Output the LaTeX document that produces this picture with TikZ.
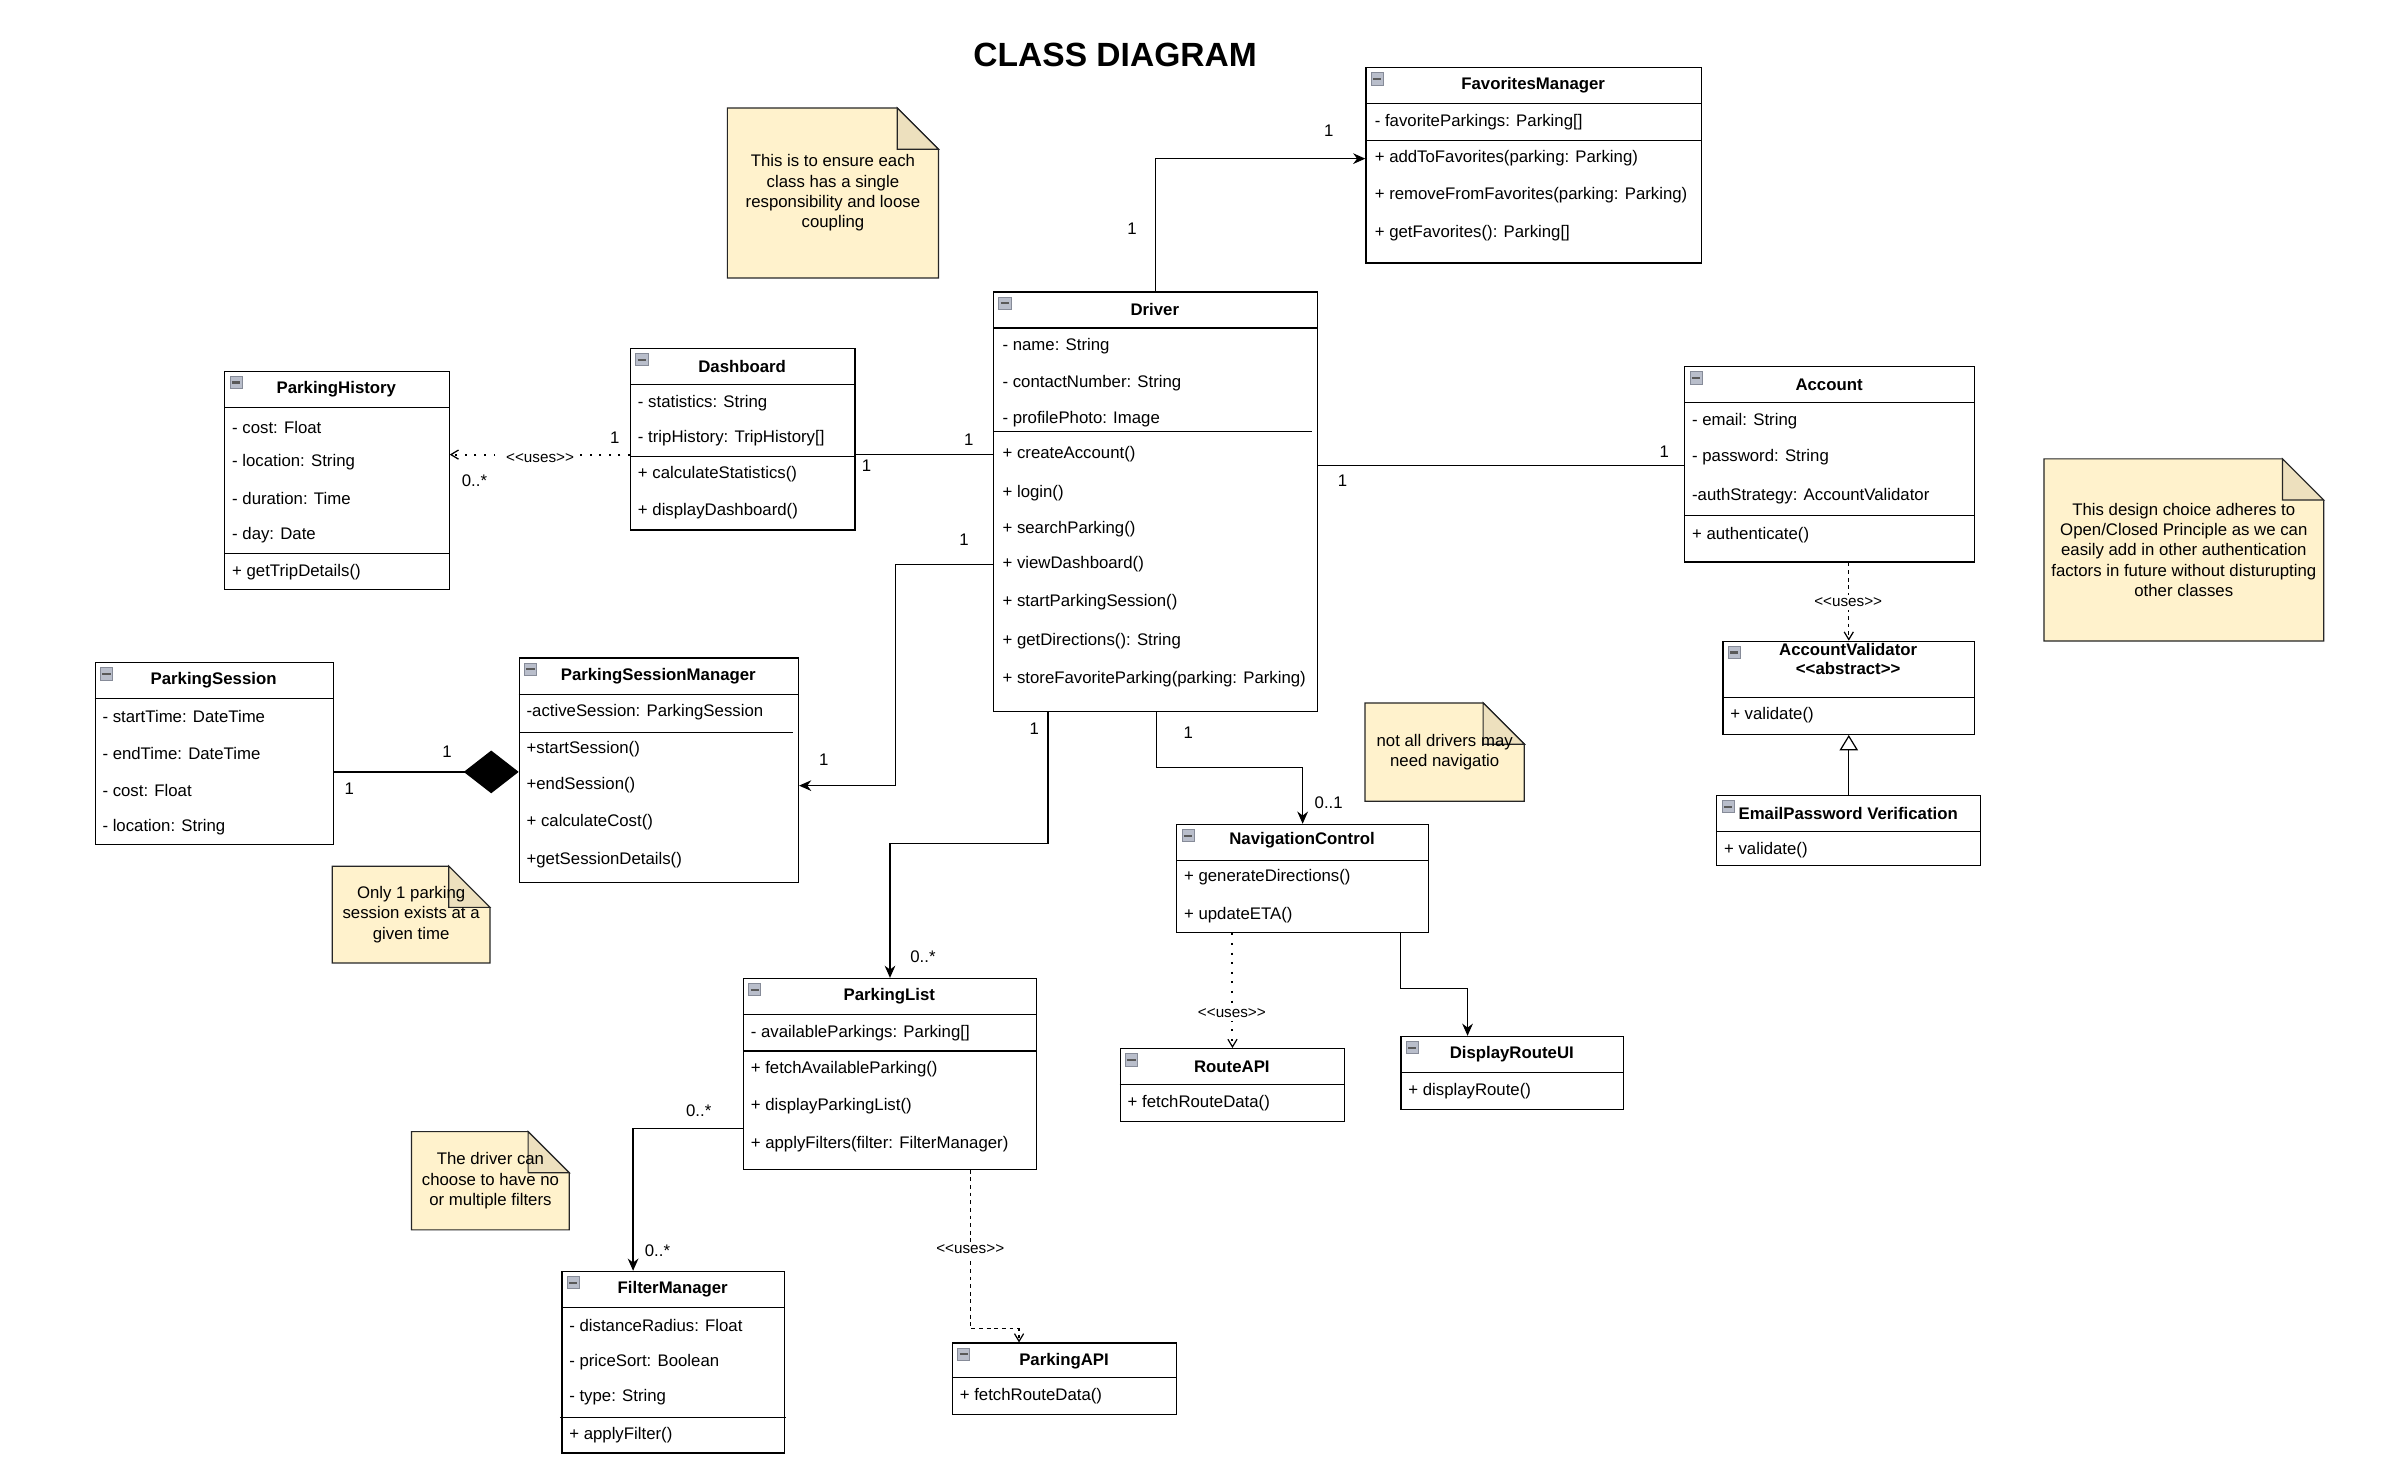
\documentclass[tikz,border=0pt]{standalone}
\usepackage{fontspec}
\setmainfont{Liberation Sans}
\usetikzlibrary{arrows.meta,backgrounds}

\definecolor{notefill}{HTML}{FFF2CC}
\definecolor{notefold}{HTML}{EDE0BE}
\definecolor{iconfill}{HTML}{B9BECB}
\definecolor{icondraw}{HTML}{868B98}

\newcommand\stereo[1]{<\kern0pt<#1>\kern0pt>}

\tikzset{
  classbox/.style={draw, line width=0.8pt, inner sep=0pt, anchor=north west},
  classtitle/.style={font=\bfseries\fontsize{11}{13.3}\selectfont, inner sep=0pt},
  member/.style={anchor=west, inner sep=0pt},
  sepline/.style={line width=0.8pt},
  iconbox/.style={draw=icondraw, fill=iconfill, line width=0.5pt, minimum size=8pt,
    inner sep=0pt, anchor=north west,
    path picture={\draw[line width=1.4pt, black!65]
      ([xshift=1.3pt]path picture bounding box.west) -- ([xshift=-1.3pt]path picture bounding box.east);}},
  notetext/.style={align=center, inner sep=0pt},
  notebody/.style={fill=notefill, draw=black!85, line width=0.8pt},
  notecorner/.style={fill=notefold, draw=black!85, line width=0.8pt},
  mult/.style={inner sep=0pt},
  usesmark/.style={inner sep=2pt, fill=white, font=\fontsize{10}{12}\selectfont},
  plainlink/.style={line width=0.8pt},
  assoc/.style={line width=0.8pt, -{Stealth[length=8pt,width=7pt]}},
  usesdash/.style={line width=0.8pt, dash pattern=on 2.5pt off 2.5pt,
    -{Straight Barb[length=5pt,width=6pt,line width=0.8pt]}},
  usesdot/.style={line width=1.3pt, dash pattern=on 1.3pt off 5pt,
    -{Straight Barb[length=5pt,width=6pt,line width=0.8pt]}},
  compose/.style={line width=0.8pt, -{Diamond[length=36pt,width=28pt]}},
  inherit/.style={line width=0.8pt, -{Triangle[open,length=10pt,width=12pt]}},
}

\begin{document}
\begin{tikzpicture}[x=1pt,y=-1pt,font=\fontsize{11}{13.3}\selectfont]
  \useasboundingbox (0,0) rectangle (1568,968);

  \node[font=\bfseries\fontsize{22}{26}\selectfont, inner sep=0pt] (title) at (731,36) {CLASS DIAGRAM};

  % FavoritesManager
  \node[classbox, minimum width=220pt, minimum height=128pt] (favmgr) at (895,44) {};
  \node[classtitle] (favmgrT) at (1005,56) {FavoritesManager};
  \draw[sepline] (895,68) -- (1115,68);
  \draw[sepline] (895,92) -- (1115,92);
  \node[member] (favList) at (901,80) {- favoriteParkings: Parking[]};
  \node[member] (favAdd) at (901,104) {+ addToFavorites(parking: Parking)};
  \node[member] (favRemove) at (901,128) {+ removeFromFavorites(parking: Parking)};
  \node[member] (favGet) at (901,153) {+ getFavorites(): Parking[]};

  % Driver
  \node[classbox, minimum width=212pt, minimum height=275pt] (driver) at (651,191) {};
  \node[classtitle] (driverT) at (757,203) {Driver};
  \draw[sepline] (651,215) -- (863,215);
  \draw[sepline] (651,283) -- (860,283);
  \node[member] (drvName) at (657,227) {- name: String};
  \node[member] (drvContact) at (657,251) {- contactNumber: String};
  \node[member] (drvPhoto) at (657,275) {- profilePhoto: Image};
  \node[member] (drvCreate) at (657,298) {+ createAccount()};
  \node[member] (drvLogin) at (657,323) {+ login()};
  \node[member] (drvSearch) at (657,347) {+ searchParking()};
  \node[member] (drvView) at (657,370) {+ viewDashboard()};
  \node[member] (drvStart) at (657,395) {+ startParkingSession()};
  \node[member] (drvDir) at (657,420) {+ getDirections(): String};
  \node[member] (drvStore) at (657,445) {+ storeFavoriteParking(parking: Parking)};

  % Dashboard
  \node[classbox, minimum width=147pt, minimum height=119pt] (dash) at (413,228) {};
  \node[classtitle] (dashT) at (486.5,240) {Dashboard};
  \draw[sepline] (413,252) -- (560,252);
  \draw[sepline] (413,299) -- (560,299);
  \node[member] (dbStats) at (418,264) {- statistics: String};
  \node[member] (dbTrip) at (418,287) {- tripHistory: TripHistory[]};
  \node[member] (dbCalc) at (418,311) {+ calculateStatistics()};
  \node[member] (dbShow) at (418,335) {+ displayDashboard()};

  % ParkingHistory
  \node[classbox, minimum width=147pt, minimum height=143pt] (phist) at (147,243) {};
  \node[classtitle] (phistT) at (220.5,255) {ParkingHistory};
  \draw[sepline] (147,267) -- (294,267);
  \draw[sepline] (147,363) -- (295,363);
  \node[member] (phCost) at (152,280) {- cost: Float};
  \node[member] (phLoc) at (152,303) {- location: String};
  \node[member] (phDur) at (152,327) {- duration: Time};
  \node[member] (phDay) at (152,351) {- day: Date};
  \node[member] (phGet) at (152,375) {+ getTripDetails()};

  % Account
  \node[classbox, minimum width=190pt, minimum height=128pt] (account) at (1104,240) {};
  \node[classtitle] (accountT) at (1199,252) {Account};
  \draw[sepline] (1104,264) -- (1294,264);
  \draw[sepline] (1104,338) -- (1294,338);
  \node[member] (acEmail) at (1109,276) {- email: String};
  \node[member] (acPass) at (1109,300) {- password: String};
  \node[member] (acAuth) at (1109,325) {-authStrategy: AccountValidator};
  \node[member] (acAuthn) at (1109,351) {+ authenticate()};

  % AccountValidator
  \node[classbox, minimum width=165pt, minimum height=61pt] (accval) at (1129,420) {};
  \node[classtitle, align=center, font=\bfseries\fontsize{11}{12}\selectfont] (accvalT) at (1211.5,432)
    {AccountValidator\\\stereo{abstract}};
  \draw[sepline] (1129,457) -- (1294,457);
  \node[member] (avValidate) at (1134,469) {+ validate()};

  % EmailPassword Verification
  \node[classbox, minimum width=173pt, minimum height=46pt] (emailpv) at (1125,521) {};
  \node[classtitle] (emailpvT) at (1211.5,533) {EmailPassword Verification};
  \draw[sepline] (1125,545) -- (1298,545);
  \node[member] (epValidate) at (1130,557) {+ validate()};

  % ParkingSession
  \node[classbox, minimum width=156pt, minimum height=119pt] (psession) at (62,434) {};
  \node[classtitle] (psessionT) at (140,446) {ParkingSession};
  \draw[sepline] (62,458) -- (218,458);
  \node[member] (psStart) at (67,470) {- startTime: DateTime};
  \node[member] (psEnd) at (67,494) {- endTime: DateTime};
  \node[member] (psCost) at (67,518) {- cost: Float};
  \node[member] (psLoc) at (67,542) {- location: String};

  % ParkingSessionManager
  \node[classbox, minimum width=183pt, minimum height=147pt] (psmgr) at (340,431) {};
  \node[classtitle] (psmgrT) at (431.5,443) {ParkingSessionManager};
  \draw[sepline] (340,455) -- (523,455);
  \draw[sepline] (341,480) -- (520,480);
  \node[member] (pmActive) at (345,467) {-activeSession: ParkingSession};
  \node[member] (pmStart) at (345,491) {+startSession()};
  \node[member] (pmEnd) at (345,515) {+endSession()};
  \node[member] (pmCost) at (345,539) {+ calculateCost()};
  \node[member] (pmDetails) at (345,564) {+getSessionDetails()};

  % NavigationControl
  \node[classbox, minimum width=165pt, minimum height=71pt] (navctl) at (771,540) {};
  \node[classtitle] (navctlT) at (853.5,551) {NavigationControl};
  \draw[sepline] (771,564) -- (936,564);
  \node[member] (ncGen) at (776,575) {+ generateDirections()};
  \node[member] (ncEta) at (776,600) {+ updateETA()};

  % RouteAPI
  \node[classbox, minimum width=147pt, minimum height=48pt] (routeapi) at (734,687) {};
  \node[classtitle] (routeapiT) at (807.5,699) {RouteAPI};
  \draw[sepline] (734,711) -- (881,711);
  \node[member] (raFetch) at (739,723) {+ fetchRouteData()};

  % DisplayRouteUI
  \node[classbox, minimum width=146pt, minimum height=48pt] (disproute) at (918,679) {};
  \node[classtitle] (disprouteT) at (991,691) {DisplayRouteUI};
  \draw[sepline] (918,703) -- (1064,703);
  \node[member] (drShow) at (923,715) {+ displayRoute()};

  % ParkingList
  \node[classbox, minimum width=192pt, minimum height=125pt] (plist) at (487,641) {};
  \node[classtitle] (plistT) at (583,653) {ParkingList};
  \draw[sepline] (487,665) -- (679,665);
  \draw[sepline] (487,689) -- (679,689);
  \node[member] (plAvail) at (492,677) {- availableParkings: Parking[]};
  \node[member] (plFetch) at (492,701) {+ fetchAvailableParking()};
  \node[member] (plShow) at (492,725) {+ displayParkingList()};
  \node[member] (plApply) at (492,750) {+ applyFilters(filter: FilterManager)};

  % FilterManager
  \node[classbox, minimum width=146pt, minimum height=119pt] (filter) at (368,833) {};
  \node[classtitle] (filterT) at (441,845) {FilterManager};
  \draw[sepline] (368,857) -- (514,857);
  \draw[sepline] (367,929) -- (515,929);
  \node[member] (fltDist) at (373,869) {- distanceRadius: Float};
  \node[member] (fltPrice) at (373,893) {- priceSort: Boolean};
  \node[member] (fltType) at (373,916) {- type: String};
  \node[member] (fltApply) at (373,941) {+ applyFilter()};

  % ParkingAPI
  \node[classbox, minimum width=147pt, minimum height=47pt] (parkapi) at (624,880) {};
  \node[classtitle] (parkapiT) at (697.5,892) {ParkingAPI};
  \draw[sepline] (624,903) -- (771,903);
  \node[member] (paFetch) at (629,915) {+ fetchRouteData()};

  % collapse icons
  \foreach \c in {favmgr,driver,dash,phist,account,accval,emailpv,psession,psmgr,navctl,routeapi,disproute,plist,filter,parkapi}
    \node[iconbox] (\c-icon) at ([xshift=3.5pt,yshift=-3.5pt]\c.north west) {};

  % notes
  \node[notetext, minimum width=138pt, minimum height=111pt] (note1) at (546,126.5)
    {This is to ensure each\\class has a single\\responsibility and loose\\coupling};
  \node[notetext, minimum width=183pt, minimum height=119pt] (note2) at (1431.5,360.5)
    {This design choice adheres to\\Open/Closed Principle as we can\\easily add in other authentication\\factors in future without disturupting\\other classes};
  \node[notetext, minimum width=103pt, minimum height=63pt] (note3) at (269.5,599.5)
    {Only 1 parking\\session exists at a\\given time};
  \node[notetext, minimum width=104pt, minimum height=64pt] (note4) at (947,493)
    {not all drivers may\\need navigatio};
  \node[notetext, minimum width=103pt, minimum height=64pt] (note5) at (321.5,774)
    {The driver can\\choose to have no\\or multiple filters};
  \begin{scope}[on background layer]
    \foreach \n in {note1,note2,note3,note4,note5} {
      \filldraw[notebody] (\n.north west) -- ([xshift=-27pt]\n.north east) -- ([yshift=-27pt]\n.north east)
        -- (\n.south east) -- (\n.south west) -- cycle;
      \filldraw[notecorner] ([xshift=-27pt]\n.north east) -- ([xshift=-27pt,yshift=-27pt]\n.north east)
        -- ([yshift=-27pt]\n.north east) -- cycle;
    }
  \end{scope}

  % bends of the connectors
  \coordinate (acLink) at (0,305);
  \coordinate (compY) at (0,506);
  \coordinate (psBend) at (587,515);
  \coordinate (plBend) at (687,553);
  \coordinate (ncBend) at (758,503);
  \coordinate (drBend) at (918,648);
  \coordinate (drDrop) at (962,0);
  \coordinate (fltBend) at (415,740);
  \coordinate (paBend) at (636,871);
  \coordinate (paDrop) at (668,0);

  % connectors
  \draw[assoc] (driver.north) |- (favmgr.west |- favAdd);
  \draw[plainlink] (dash.east |- drvCreate) -- (driver.west |- drvCreate);
  \draw[usesdot] (dash.west |- drvCreate) -- (phist.east |- drvCreate);
  \draw[plainlink] (driver.east |- acLink) -- (account.west |- acLink);
  \draw[usesdash] (account.south -| accval.north) -- (accval.north);
  \draw[inherit] (emailpv.north) -- (accval.south);
  \draw[compose] (psession.east |- compY) -- (psmgr.west |- compY);
  \draw[assoc] (driver.west |- drvView) -| (psBend) -- (psmgr.east |- psBend);
  \draw[assoc] (driver.south -| plBend) -- (plBend) -| (plist.north);
  \draw[assoc] (driver.south -| ncBend) -- (ncBend) -| (navctl.north);
  \draw[usesdot] (navctl.south -| routeapi.north) -- (routeapi.north);
  \draw[assoc] (navctl.south -| drBend) -- (drBend) -| (drDrop |- disproute.north);
  \draw[assoc] (plist.west |- fltBend) -- (fltBend) -- (fltBend |- filter.north);
  \draw[usesdash] (plist.south -| paBend) -- (paBend) -| (paDrop |- parkapi.north);

  % stereotypes
  \node[usesmark] (uses1) at (354,300) {\stereo{uses}};
  \node[usesmark] (uses2) at (1211.5,395) {\stereo{uses}};
  \node[usesmark] (uses3) at (807.5,664) {\stereo{uses}};
  \node[usesmark] (uses4) at (636,819) {\stereo{uses}};

  % multiplicities
  \node[mult] (m1) at (742,150) {1};
  \node[mult] (m2) at (871,86) {1};
  \node[mult] (m3) at (568,305) {1};
  \node[mult] (m4) at (635,288) {1};
  \node[mult] (m5) at (403,287) {1};
  \node[mult] (m6) at (311,315) {0..*};
  \node[mult] (m7) at (880,315) {1};
  \node[mult] (m8) at (1091,296) {1};
  \node[mult] (m9) at (293,493) {1};
  \node[mult] (m10) at (229,517) {1};
  \node[mult] (m11) at (632,354) {1};
  \node[mult] (m12) at (540,498) {1};
  \node[mult] (m13) at (678,478) {1};
  \node[mult] (m14) at (605,627) {0..*};
  \node[mult] (m15) at (779,480) {1};
  \node[mult] (m16) at (871,526) {0..1};
  \node[mult] (m17) at (458,728) {0..*};
  \node[mult] (m18) at (431,820) {0..*};
\end{tikzpicture}
\end{document}
